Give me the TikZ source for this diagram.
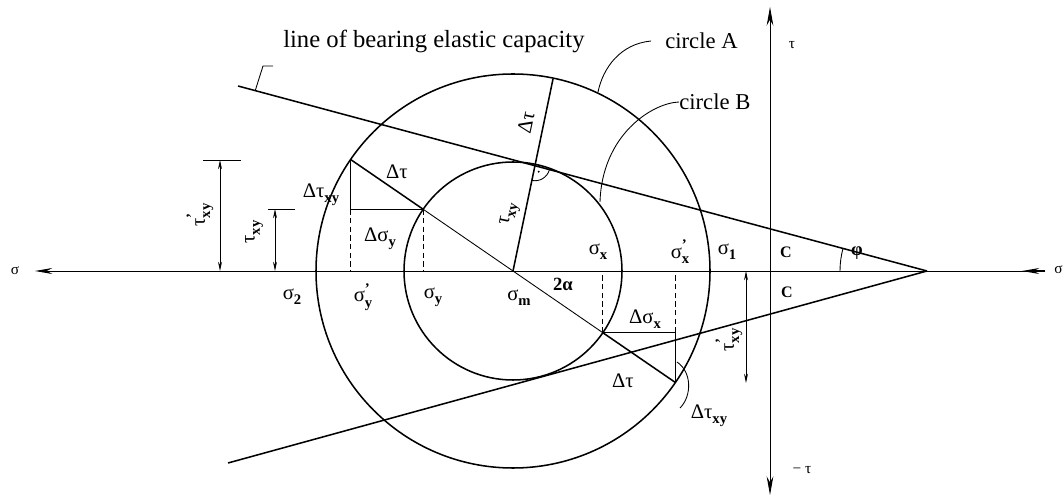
\documentclass[tikz,border=0pt]{standalone}
\usepackage{fontspec}
\setmainfont{Liberation Serif}
\usetikzlibrary{arrows.meta,calc}
\newcommand\gsb[2]{#1\raisebox{-0.55ex}{\fontsize{11}{11}\selectfont\bfseries #2}}
\newcommand\gpr[2]{#1\rlap{\raisebox{0.9ex}{\fontsize{11}{11}\selectfont\bfseries '}}\raisebox{-0.55ex}{\fontsize{11}{11}\selectfont\bfseries #2}}
\begin{document}
\begin{tikzpicture}[x=0.75pt,y=-0.75pt,
  thinl/.style={line width=0.65pt},
  mainl/.style={line width=1.15pt},
  dashl/.style={line width=0.75pt, dash pattern=on 4pt off 2.5pt},
  lab/.style={inner sep=0pt, font=\fontsize{15.5}{17}\selectfont},
  txt/.style={inner sep=0pt, font=\fontsize{17}{19}\selectfont},
  small/.style={inner sep=0pt, font=\fontsize{11.5}{13}\selectfont},
  axarrow/.style={-{Stealth[length=13pt,width=4.5pt]}},
  dimarrow/.style={{Stealth[length=7pt,width=3pt]}-{Stealth[length=7pt,width=3pt]}, line width=0.65pt}]
\useasboundingbox (0,0) rectangle (1063,498);
% key points
\coordinate (M) at (513,271);
\coordinate (V) at (927,271);
\coordinate (AxL) at (35,271);
\coordinate (AxR) at (1045,271);
\coordinate (AxR2) at (1022,271);
\coordinate (TauT) at (770,7);
\coordinate (TauB) at (770,495);
\coordinate (UL) at (238,86);
\coordinate (LL) at (228,463);
\coordinate (Ay) at (350.6,159.5);
\coordinate (Py) at (423.2,209.3);
\coordinate (Px) at (602.8,332.7);
\coordinate (Ax) at (675.4,382.5);
\coordinate (RT) at (553,79);
\coordinate (I) at (intersection of M--RT and V--UL);
% axes
\draw[thinl, axarrow] (AxR) -- (AxL);
\draw[mainl, axarrow] (AxR) -- (AxR2);
\draw[thinl, {Stealth[length=14pt,width=5pt]}-{Stealth[length=14pt,width=5pt]}] (TauB) -- (TauT);
% circles
\draw[mainl] (M) circle[radius=197];
\draw[mainl] (M) circle[radius=109];
% lines of bearing elastic capacity
\draw[mainl] (V) -- (UL);
\draw[mainl] (V) -- (LL);
% radial line with right angle mark
\draw[mainl] (M) -- (RT);
\draw[thinl] ([shift={(101.8:15)}]I) arc[start angle=101.8, end angle=15, radius=15];
\fill ([shift={(58:7)}]I) circle[radius=1.1];
% phi arc
\draw[thinl] ([shift={(180:87)}]V) arc[start angle=180, end angle=195, radius=87];
% diameter
\draw[mainl] (Ay) -- (Py);
\draw[thinl] (Py) -- (Px);
\draw[mainl] (Px) -- (Ax);
% left construction
\coordinate (Ay1) at (Ay |- Py);
\coordinate (Ay0) at (Ay |- M);
\coordinate (Py0) at (Py |- M);
\draw[mainl] (Ay) -- (Ay1) -- (Py);
\draw[dashl] (Ay1) -- (Ay0);
\draw[dashl] (Py) -- (Py0);
% right construction
\coordinate (Ax1) at (Ax |- Px);
\coordinate (Ax0) at (Ax |- M);
\coordinate (Px0) at (Px |- M);
\draw[mainl] (Px) -- (Ax1) -- (Ax);
\draw[dashl] (Ax1) -- (Ax0);
\draw[dashl] (Px) -- (Px0);
% dimensions
\coordinate (D1a) at (203,160); \coordinate (D1b) at (241,160);
\coordinate (D1t) at (220,160); \coordinate (D1o) at (220,271);
\draw[thinl] (D1a) -- (D1b);
\draw[dimarrow] (D1o) -- (D1t);
\coordinate (D2a) at (268,209); \coordinate (D2b) at (295,209);
\coordinate (D2t) at (275,209); \coordinate (D2o) at (275,271);
\draw[thinl] (D2a) -- (D2b);
\draw[dimarrow] (D2o) -- (D2t);
\coordinate (D3t) at (746,271); \coordinate (D3o) at (746,383);
\draw[dimarrow] (D3o) -- (D3t);
% leaders
\node[txt, anchor=west, font=\fontsize{18.5}{20}\selectfont] (LB) at (283,41) {line of bearing elastic capacity};
\coordinate (LB1) at ($(V)!0.975!(UL)$);
\coordinate (LB2) at (263,66);
\coordinate (LB3) at (273,66);
\draw[thinl] (LB1) -- (LB2) -- (LB3);
\node[txt, anchor=west] (CA) at (665,41) {circle A};
\coordinate (CApt) at (598,92);
\draw[thinl] ([xshift=-10.5pt]CA.west) .. controls (620,44) and (603,68) .. (CApt);
\node[txt, anchor=west] (CB) at (679,102) {circle B};
\coordinate (CBpt) at (600,202);
\draw[thinl] (CB.west) .. controls (652,103) and (602,135) .. (CBpt);
\coordinate (DTa) at (677,362);
\coordinate (DTb) at (680,408);
\draw[thinl] (DTa) .. controls (692,372) and (692,396) .. (DTb);
% labels
\node[small] (sigL) at (15,271) {σ};
\node[small, anchor=west] (sigR) at (1054,270) {σ};
\node[small] (tauT) at (792,45) {τ};
\node[small] (tauB) at (802,470) {− τ};
\node[small, font=\fontsize{12}{13}\selectfont\bfseries] (C1) at (786,252) {C};
\node[small, font=\fontsize{12}{13}\selectfont\bfseries] (C2) at (787,292) {C};
\node[lab, font=\fontsize{14}{15}\selectfont\bfseries] (phi) at (857,253) {φ};
\node[lab] (s1) at (727,252) {\gsb{σ}{1}};
\node[lab] (sxp) at (680,252) {\gpr{σ}{x}};
\node[lab] (sx) at (598,252) {\gsb{σ}{x}};
\node[lab, font=\fontsize{14}{15}\selectfont\bfseries] (a2) at (563,284) {2α};
\node[lab] (sm) at (519,298) {\gsb{σ}{m}};
\node[lab] (sy) at (433,297) {\gsb{σ}{y}};
\node[lab] (syp) at (363,297) {\gpr{σ}{y}};
\node[lab] (s2) at (292,297) {\gsb{σ}{2}};
\node[lab] (dtxyL) at (321,195) {Δ\gsb{τ}{xy}};
\node[lab] (dtU) at (397,172) {Δτ};
\node[lab] (dsy) at (380,239) {Δ\gsb{σ}{y}};
\node[lab] (dsx) at (645,319) {Δ\gsb{σ}{x}};
\node[lab] (dtL) at (623,381) {Δτ};
\node[lab] (dtxyR) at (709,416) {Δ\gsb{τ}{xy}};
\node[lab, rotate=78] (dtR) at (526,123) {Δτ};
\node[lab, rotate=78] (tR) at (510,214) {\gsb{τ}{xy}};
\node[lab, rotate=90] (tpL) at (200,215) {\gpr{τ}{xy}};
\node[lab, rotate=90] (tL) at (254,232) {\gsb{τ}{xy}};
\node[lab, rotate=90] (tpR) at (729,340) {\gpr{τ}{xy}};
\end{tikzpicture}
\end{document}
